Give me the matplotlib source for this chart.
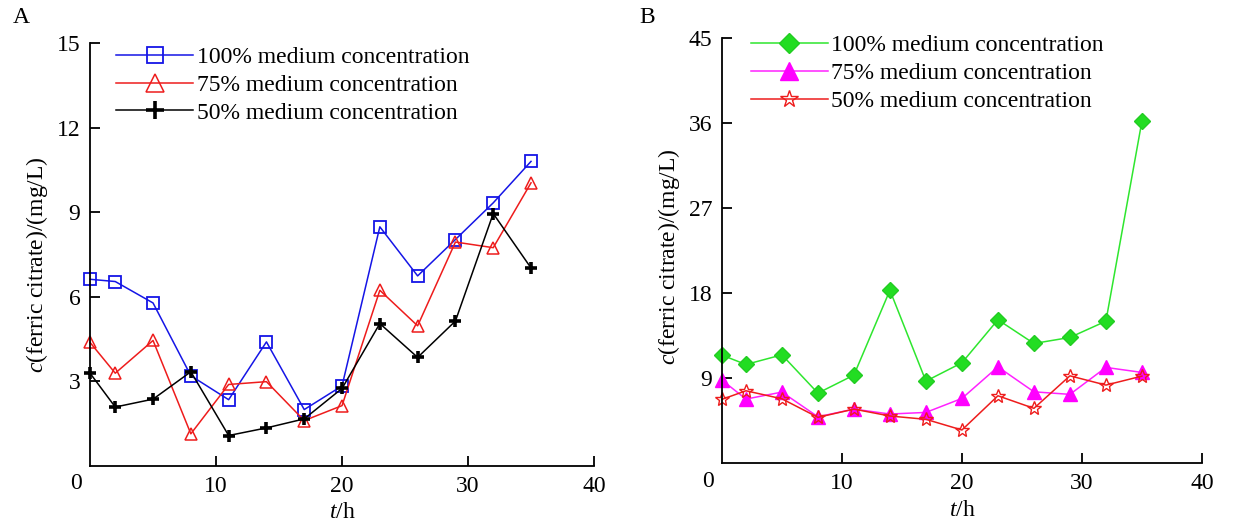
import matplotlib.pyplot as plt
import numpy as np

plt.rcParams["font.family"] = "Liberation Serif"
plt.rcParams["mathtext.fontset"] = "custom"
plt.rcParams["mathtext.rm"] = "Liberation Serif"
plt.rcParams["mathtext.it"] = "Liberation Serif:italic"
plt.rcParams.update({'font.size': 17})

# sampling time, h
t = [0, 2, 5, 8, 11, 14, 17, 20, 23, 26, 29, 32, 35]

# panel A
a_100 = [6.62, 6.54, 5.78, 3.20, 2.35, 4.40, 2.00, 2.84, 8.48, 6.74, 8.03, 9.33, 10.80]
a_75 = [4.38, 3.29, 4.45, 1.14, 2.89, 2.99, 1.61, 2.14, 6.23, 4.97, 7.94, 7.74, 10.04]
a_50 = [3.29, 2.09, 2.37, 3.34, 1.08, 1.35, 1.67, 2.75, 5.05, 3.85, 5.14, 8.95, 7.02]

# panel B
b_100 = [11.46, 10.47, 11.49, 7.44, 9.35, 18.32, 8.71, 10.65, 15.2, 12.69, 13.33, 15.05, 36.2]
b_75 = [8.82, 6.81, 7.55, 4.94, 5.75, 5.23, 5.40, 6.88, 10.22, 7.58, 7.31, 10.16, 9.63]
b_50 = [6.78, 7.69, 6.84, 4.88, 5.75, 5.02, 4.67, 3.54, 7.16, 5.83, 9.27, 8.29, 9.24]

labels = ['100% medium concentration', '75% medium concentration', '50% medium concentration']

fig = plt.figure(figsize=(12.49, 5.21), dpi=100)
axA = fig.add_axes([0.0721, 0.1056, 0.4035, 0.812])
axB = fig.add_axes([0.578, 0.1104, 0.3843, 0.8167])

axA.plot(t, a_100, color='#1515e6', marker='s', ms=8, mfc='none', mew=1.3, lw=1.1, clip_on=False, label=labels[0])
axA.plot(t, a_75, color='#ee1c1c', marker='^', ms=9, mfc='none', mew=1.1, lw=1.1, clip_on=False, label=labels[1])
axA.plot(t, a_50, color='black', marker='+', ms=9, mew=2.6, lw=1.1, clip_on=False, label=labels[2])

axB.plot(t, b_100, color='#2ee62e', marker='D', ms=8, mec='#22cc22', mfc='#22dd22', lw=1.1, clip_on=False, label=labels[0])
axB.plot(t, b_75, color='#ff22ff', marker='^', ms=10, mfc='#ff00ff', mec='#ff00ff', lw=1.1, clip_on=False, label=labels[1])
axB.plot(t, b_50, color='#ee1c1c', marker='*', ms=10, mfc='none', mew=1.0, lw=1.1, clip_on=False, label=labels[2])

setup = [(axA, 15, (0.01, 1.042), (-0.079, 0.475), 1.4),
         (axB, 45, (0.016, 1.058), (-0.083, 0.485), 1.3)]
for ax, ymax, anchor, ylc, mscale in setup:
    ax.set_xlim(0, 40)
    ax.set_ylim(0, ymax)
    step = ymax // 5
    ax.set_yticks(np.arange(step, ymax + 1, step))
    ax.set_xticks([10, 20, 30, 40])
    ax.spines['top'].set_visible(False)
    ax.spines['right'].set_visible(False)
    ax.spines['left'].set_linewidth(1.3)
    ax.spines['bottom'].set_linewidth(1.3)
    ax.tick_params(direction='in', length=7, width=1.3, labelsize=17, pad=7)
    ax.text(-0.028, -0.017, '0', transform=ax.transAxes, ha='center', va='top', fontsize=17)
    ax.set_xlabel(r'$t$/h', fontsize=17, labelpad=4)
    ax.set_ylabel(r'$c$(ferric citrate)/(mg/L)', fontsize=17)
    ax.yaxis.set_label_coords(*ylc)
    ax.legend(loc='upper left', bbox_to_anchor=anchor, frameon=False, handlelength=3.26,
              labelspacing=0.27, handletextpad=0.15, markerscale=mscale, fontsize=17)

fig.text(0.010, 0.955, 'A', fontsize=17)
fig.text(0.512, 0.955, 'B', fontsize=17)

plt.savefig('out.png')
